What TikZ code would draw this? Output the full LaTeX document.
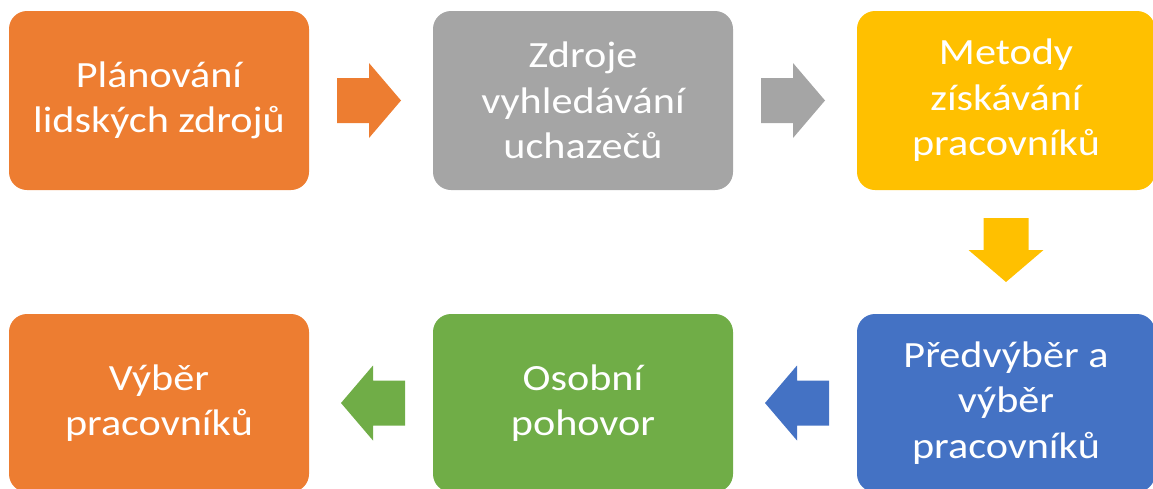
\documentclass[tikz,border=0pt]{standalone}
\usepackage{fontspec}
\setmainfont{Carlito}[FakeStretch=1.14]
\usetikzlibrary{calc}
\definecolor{cOrange}{HTML}{ED7D31}
\definecolor{cGray}{HTML}{A5A5A5}
\definecolor{cYellow}{HTML}{FFC000}
\definecolor{cBlue}{HTML}{4472C4}
\definecolor{cGreen}{HTML}{70AD47}
\tikzset{
  box/.style={rectangle, rounded corners=18pt, inner sep=0pt, text=white, align=center,
    font=\fontsize{37}{45.5}\selectfont, minimum height=179pt},
  rarrow/.pic={\fill (-32,-22.5) -- (0,-22.5) -- (0,-37.5) -- (32,0) -- (0,37.5) -- (0,22.5) -- (-32,22.5) -- cycle;},
  larrow/.pic={\fill (32,-22.5) -- (0,-22.5) -- (0,-37.5) -- (-32,0) -- (0,37.5) -- (0,22.5) -- (32,22.5) -- cycle;},
  darrow/.pic={\fill (-22.5,-32) -- (22.5,-32) -- (22.5,0) -- (37.5,0) -- (0,32) -- (-37.5,0) -- (-22.5,0) -- cycle;}
}
\begin{document}
\begin{tikzpicture}[x=1pt,y=-1pt]
\useasboundingbox (0,0) rectangle (1153,488);
\node[box, fill=cOrange, minimum width=300pt] (b1) at (159,100.5) {Plánování\\lidských zdrojů};
\node[box, fill=cGray, minimum width=300pt] (b2) at (583,100.5) {Zdroje\\vyhledávání\\uchazečů};
\node[box, fill=cYellow, minimum width=298pt] (b3) at (1006,100.5) {Metody\\získávání\\pracovníků};
\node[box, fill=cBlue, minimum width=298pt, minimum height=178pt] (b6) at (1006,403) {Předvýběr a\\výběr\\pracovníků};
\node[box, fill=cGreen, minimum width=300pt, minimum height=178pt] (b5) at (583,403) {Osobní\\pohovor};
\node[box, fill=cOrange, minimum width=300pt, minimum height=178pt] (b4) at (159,403) {Výběr\\pracovníků};
\pic[color=cOrange] at ($(b1.east)!0.5!(b2.west)+(-2,0)$) {rarrow};
\pic[color=cGray] at ($(b2.east)!0.5!(b3.west)+(-2,0)$) {rarrow};
\pic[color=cYellow] at ($(b3.south)!0.5!(b6.north)+(0,-2)$) {darrow};
\pic[color=cBlue] at ($(b6.west)!0.5!(b5.east)+(2,0)$) {larrow};
\pic[color=cGreen] at ($(b5.west)!0.5!(b4.east)+(2,0)$) {larrow};
\end{tikzpicture}
\end{document}
